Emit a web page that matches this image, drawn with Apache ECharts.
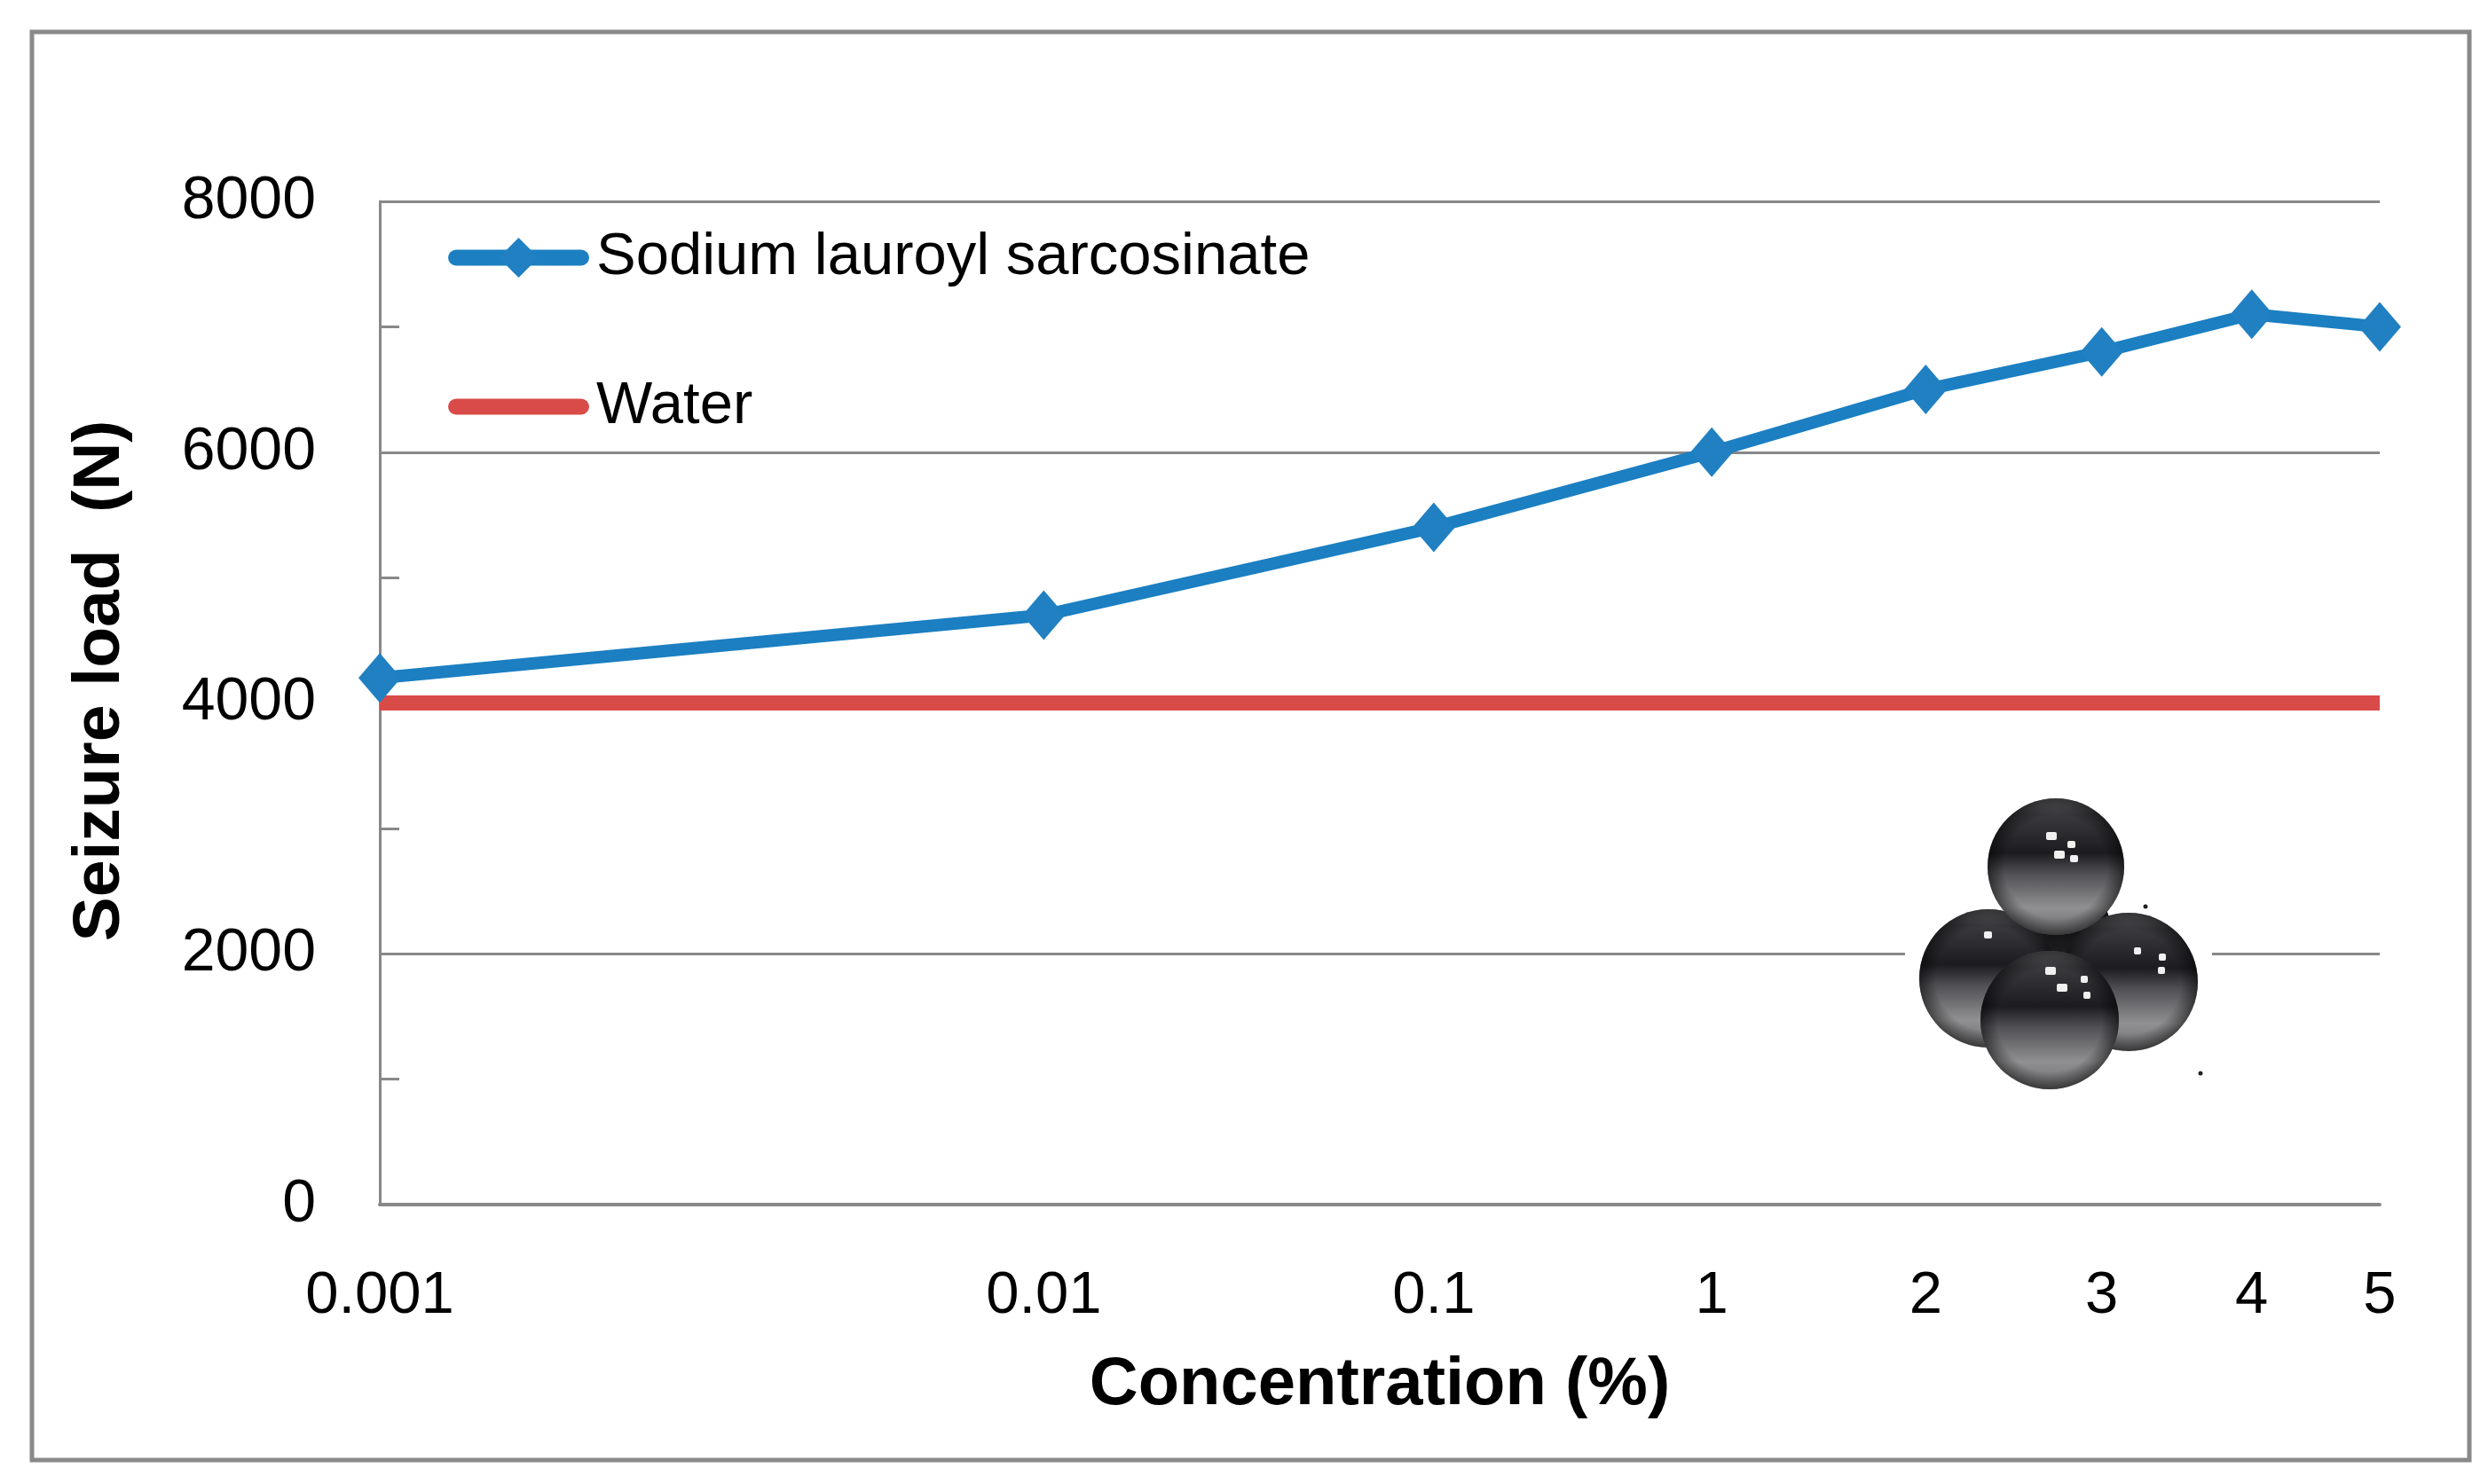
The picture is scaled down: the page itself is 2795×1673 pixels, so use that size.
<!DOCTYPE html>
<html>
<head>
<meta charset="utf-8">
<script src="https://cdn.jsdelivr.net/npm/echarts@6/dist/echarts.min.js"></script>
<style>
html,body{margin:0;padding:0;background:#fff;}
#chart{width:2795px;height:1673px;}
</style>
</head>
<body>
<div id="chart"></div>
<script>
// Concentration labels (%) and their positions on the original (non-linear) x scale, 0..100
const concentrations = ['0.001', '0.01', '0.1', '1', '2', '3', '4', '5'];
const axisPosition = [0, 33.2, 52.7, 66.6, 77.3, 86.1, 93.6, 100];
// Seizure load (N)
const slsLoad = [4200, 4700, 5400, 6000, 6500, 6800, 7100, 7000];
const waterLoad = [4000, 4000, 4000, 4000, 4000, 4000, 4000, 4000];
const yTicks = [0, 2000, 4000, 6000, 8000];

const FONT = '"Liberation Sans", Arial, sans-serif';
const GRAY = '#888888';

const slsData = axisPosition.map((p, i) => [p, slsLoad[i]]);
const waterData = axisPosition.map((p, i) => [p, waterLoad[i]]);

function ball(cx, cy, r, dark) {
  return [
    {
      type: 'circle', shape: {cx: cx, cy: cy, r: r}, z: 100,
      style: {
        fill: {
          type: 'linear', x: 0, y: 0, x2: 0, y2: 1,
          colorStops: dark ? [
            {offset: 0, color: '#3a3a3e'}, {offset: 0.5, color: '#141416'}, {offset: 1, color: '#2a2a2c'}
          ] : [
            {offset: 0, color: '#6a6a6e'}, {offset: 0.12, color: '#3a3a3e'},
            {offset: 0.4, color: '#1c1c20'}, {offset: 0.55, color: '#505054'},
            {offset: 0.8, color: '#909092'}, {offset: 1, color: '#707072'}
          ]
        }
      }
    },
    {
      type: 'circle', shape: {cx: cx, cy: cy, r: r}, z: 100,
      style: {
        fill: {
          type: 'radial', x: 0.5, y: 0.5, r: 0.5,
          colorStops: [
            {offset: 0, color: 'rgba(0,0,0,0)'}, {offset: 0.75, color: 'rgba(0,0,0,0)'},
            {offset: 1, color: 'rgba(0,0,0,0.5)'}
          ]
        }
      }
    }
  ];
}
function hl(x, y, w, h) {
  return {type: 'rect', shape: {x: x, y: y, width: w, height: h, r: 2}, z: 101, style: {fill: '#f0f0f0'}};
}

const chart = echarts.init(document.getElementById('chart'), null, {renderer: 'canvas'});
chart.setOption({
  backgroundColor: '#fff',
  animation: false,
  grid: {left: 428, right: 113, top: 227, bottom: 315, containLabel: false},
  legend: {
    orient: 'vertical', left: 500, top: 252,
    itemWidth: 141, itemHeight: 56, itemGap: 101,
    data: [
      {name: 'Sodium lauroyl sarcosinate'},
      {name: 'Water', itemStyle: {opacity: 0}}
    ],
    lineStyle: {width: 18, cap: 'round'},
    textStyle: {fontSize: 67, fontFamily: FONT, color: '#000', padding: [0, 0, 0, 12]}
  },
  xAxis: {
    type: 'value', min: 0, max: 100,
    name: 'Concentration (%)', nameLocation: 'middle', nameGap: 166,
    nameTextStyle: {fontSize: 76, fontWeight: 'bold', fontFamily: FONT, color: '#000'},
    axisLine: {show: true, onZero: false, lineStyle: {color: GRAY, width: 4}},
    axisTick: {show: false},
    splitLine: {show: false},
    axisLabel: {
      customValues: axisPosition, margin: 70,
      fontSize: 67, fontFamily: FONT, color: '#000',
      formatter: function (v) {
        const i = axisPosition.indexOf(v);
        return i >= 0 ? concentrations[i] : '';
      }
    }
  },
  yAxis: {
    type: 'value', min: yTicks[0], max: yTicks[yTicks.length - 1], interval: 2000,
    name: 'Seizure load  (N)', nameLocation: 'middle', nameGap: 277, nameRotate: 90,
    nameTextStyle: {fontSize: 75, fontWeight: 'bold', fontFamily: FONT, color: '#000', padding: [0, 0, 0, 50]},
    axisLine: {show: true, lineStyle: {color: GRAY, width: 3}},
    axisTick: {show: true, inside: true, length: 22, lineStyle: {color: GRAY, width: 3}},
    minorTick: {show: true, splitNumber: 2, length: 22, lineStyle: {color: GRAY, width: 3}},
    splitLine: {show: true, lineStyle: {color: GRAY, width: 3}},
    axisLabel: {
      margin: 72, fontSize: 68, fontFamily: FONT, color: '#000',
      formatter: function (v) { return String(v); }
    }
  },
  series: [
    {
      name: 'Water', type: 'line', data: waterData, symbol: 'none', z: 3,
      lineStyle: {color: '#d94b48', width: 17},
      itemStyle: {color: '#d94b48'}
    },
    {
      name: 'Sodium lauroyl sarcosinate', type: 'line', data: slsData, z: 4,
      symbol: 'diamond', symbolSize: [48, 56],
      lineStyle: {color: '#1b7fc2', width: 14},
      itemStyle: {color: '#2080c2'}
    }
  ],
  graphic: [].concat(
    [
      {type: 'rect', shape: {x: 36, y: 36, width: 2747, height: 1610}, z: 0, silent: true,
        style: {fill: 'none', stroke: '#898989', lineWidth: 5}},
      {type: 'rect', shape: {x: 2147, y: 905, width: 346, height: 330}, z: 99, style: {fill: '#fff'}}
    ],
    ball(2317, 1050, 62, true),
    ball(2241, 1103, 78),
    ball(2399, 1107, 78),
    ball(2317, 977, 77),
    ball(2310, 1150, 78),
    [
      hl(2306, 938, 12, 9), hl(2330, 948, 9, 8), hl(2333, 964, 9, 8), hl(2315, 959, 12, 9),
      hl(2236, 1050, 9, 8),
      hl(2405, 1068, 8, 8), hl(2433, 1075, 8, 8), hl(2432, 1090, 8, 8),
      hl(2305, 1090, 12, 9), hl(2318, 1109, 12, 9), hl(2345, 1100, 8, 8), hl(2348, 1118, 8, 8),
      {type: 'circle', shape: {cx: 2418, cy: 1022, r: 2.5}, z: 101, style: {fill: '#222'}},
      {type: 'circle', shape: {cx: 2480, cy: 1210, r: 2.5}, z: 101, style: {fill: '#222'}}
    ]
  )
});
</script>
</body>
</html>
